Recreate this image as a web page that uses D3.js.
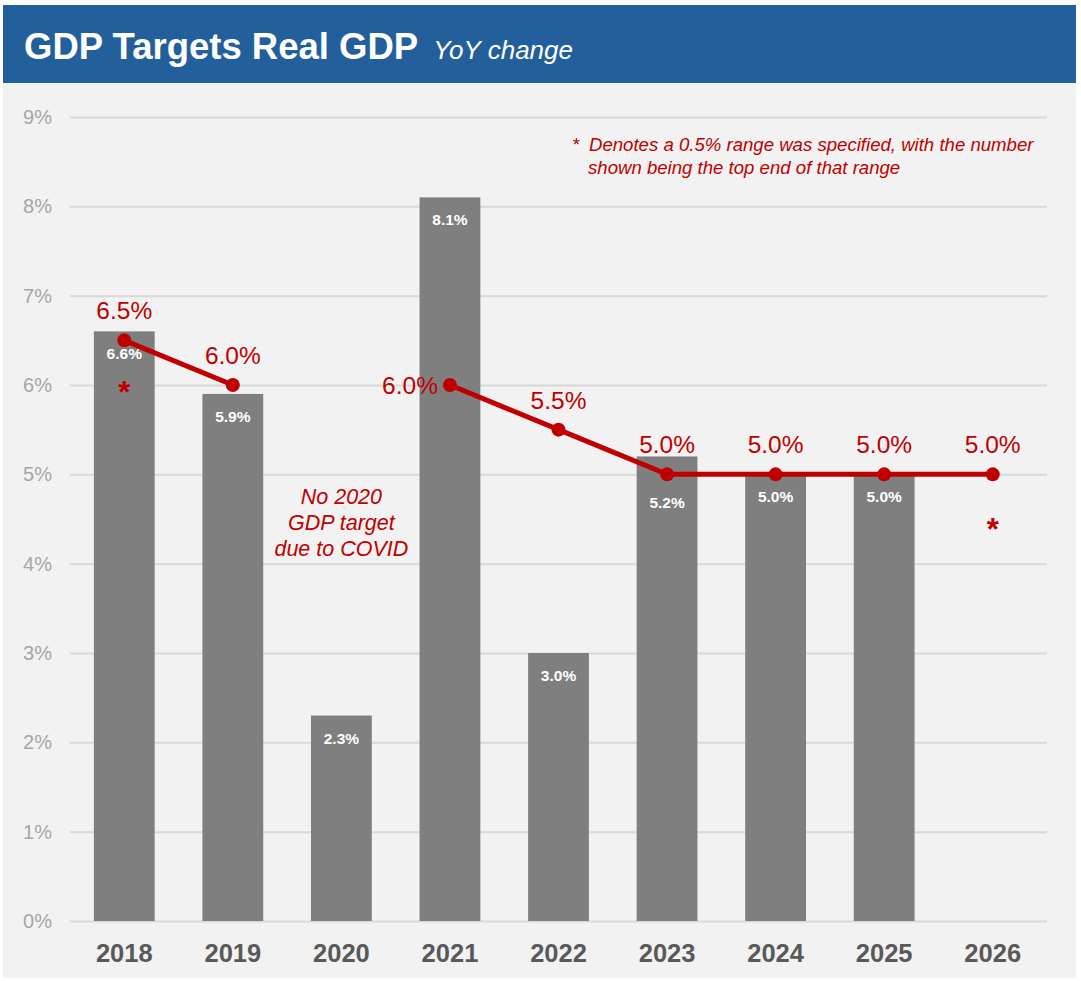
<!DOCTYPE html>
<html>
<head>
<meta charset="utf-8">
<script src="https://cdn.jsdelivr.net/npm/d3@7"></script>
<style>
  html, body { margin: 0; padding: 0; background: #ffffff; }
  svg { display: block; font-family: "Liberation Sans", Arial, sans-serif; }
</style>
</head>
<body>
<svg id="chart" width="1081" height="981"></svg>
<script>
// Chart data
const years = ["2018", "2019", "2020", "2021", "2022", "2023", "2024", "2025", "2026"];
const actualGrowth = [6.6, 5.9, 2.3, 8.1, 3.0, 5.2, 5.0, 5.0, null];
const targetGrowth = [6.5, 6.0, null, 6.0, 5.5, 5.0, 5.0, 5.0, 5.0];
const rangeTargetYears = ["2018", "2026"];
const yTicks = [0, 1, 2, 3, 4, 5, 6, 7, 8, 9];

const svg = d3.select("#chart");
const red = "#c00000";

// Background panel and header band
svg.append("rect").attr("x", 3).attr("y", 5).attr("width", 1073).attr("height", 973).attr("fill", "#f2f2f2");
svg.append("rect").attr("x", 3).attr("y", 5).attr("width", 1073).attr("height", 78).attr("fill", "#225f9b");

const title = svg.append("text").attr("x", 24).attr("y", 59).attr("fill", "#ffffff");
title.append("tspan").attr("font-size", 36.5).attr("font-weight", "bold").text("GDP Targets Real GDP");
title.append("tspan").attr("dx", 15).attr("font-size", 26).attr("font-style", "italic").text("YoY change");

// Scales
const x = d3.scaleBand().domain(years).range([70, 1047]).paddingInner(0.44).paddingOuter(0.22);
const y = d3.scaleLinear().domain([0, 9]).range([921, 117]);

// Gridlines and y labels
const yAxis = d3.axisLeft(y).tickValues(yTicks).tickFormat(d => d + "%").tickSize(-(1047 - 70)).tickPadding(18);
const gy = svg.append("g").attr("transform", "translate(70,0)").call(yAxis);
gy.select(".domain").remove();
gy.selectAll(".tick line").attr("stroke", "#d9d9d9").attr("stroke-width", 2);
gy.selectAll(".tick text").attr("fill", "#a6a6a6").attr("font-size", 20).attr("font-family", "Liberation Sans, Arial, sans-serif");

// x labels
const xAxis = d3.axisBottom(x).tickSize(0).tickPadding(23);
const gx = svg.append("g").attr("transform", "translate(0,921)").call(xAxis);
gx.select(".domain").remove();
gx.selectAll(".tick text").attr("fill", "#595959").attr("font-size", 25.5).attr("font-weight", "bold")
  .attr("font-family", "Liberation Sans, Arial, sans-serif");

// Bars for actual growth
const barData = years.map((yr, i) => ({ yr, v: actualGrowth[i], t: targetGrowth[i] })).filter(d => d.v !== null);
svg.append("g").selectAll("rect").data(barData).join("rect")
  .attr("x", d => x(d.yr)).attr("width", x.bandwidth())
  .attr("y", d => y(d.v)).attr("height", d => y(0) - y(d.v))
  .attr("fill", "#7f7f7f");

// Value labels inside bars; pushed lower where the target line crosses the label
svg.append("g").selectAll("text").data(barData).join("text")
  .attr("x", d => x(d.yr) + x.bandwidth() / 2)
  .attr("y", d => {
    const base = y(d.v) + 28;
    if (d.t !== null && d.v > d.t && y(d.t) > y(d.v) + 10 && y(d.t) < y(d.v) + 30 && d.v - d.t > 0.15) return y(d.t) + 34;
    return base;
  })
  .attr("text-anchor", "middle").attr("fill", "#ffffff").attr("font-size", 15.5).attr("font-weight", "bold")
  .text(d => d.v.toFixed(1) + "%");

// Target line
const tData = years.map((yr, i) => ({ yr, v: targetGrowth[i] }));
const line = d3.line().defined(d => d.v !== null)
  .x(d => x(d.yr) + x.bandwidth() / 2).y(d => y(d.v));
svg.append("path").datum(tData).attr("d", line)
  .attr("fill", "none").attr("stroke", red).attr("stroke-width", 5);
const tPts = tData.filter(d => d.v !== null);
svg.append("g").selectAll("circle").data(tPts).join("circle")
  .attr("cx", d => x(d.yr) + x.bandwidth() / 2).attr("cy", d => y(d.v)).attr("r", 7).attr("fill", red);

// Target labels: above each point, except after the 2020 gap where it sits to the left
svg.append("g").selectAll("text").data(tPts).join("text")
  .each(function(d) {
    const i = years.indexOf(d.yr);
    const afterGap = i > 0 && targetGrowth[i - 1] === null;
    const cx = x(d.yr) + x.bandwidth() / 2;
    d3.select(this)
      .attr("x", afterGap ? cx - 12 : cx)
      .attr("y", afterGap ? y(d.v) + 9 : y(d.v) - 21)
      .attr("text-anchor", afterGap ? "end" : "middle");
  })
  .attr("fill", red).attr("font-size", 24.5)
  .text(d => d.v.toFixed(1) + "%");

// Asterisks marking range targets
svg.append("g").selectAll("text").data(rangeTargetYears).join("text")
  .attr("x", d => x(d) + x.bandwidth() / 2)
  .attr("y", d => y(targetGrowth[years.indexOf(d)]) + (d === "2018" ? 63 : 66))
  .attr("text-anchor", "middle").attr("fill", red).attr("font-size", 31).attr("font-weight", "bold")
  .text("*");

// Range footnote
const note = svg.append("text").attr("fill", red).attr("font-size", 18.6).attr("font-style", "italic");
note.append("tspan").attr("x", 572).attr("y", 151).text("*");
note.append("tspan").attr("x", 589).attr("y", 151).text("Denotes a 0.5% range was specified, with the number");
note.append("tspan").attr("x", 588).attr("y", 174).text("shown being the top end of that range");

// Missing 2020 target note
const covid = svg.append("text").attr("fill", red).attr("font-size", 21.5).attr("font-style", "italic")
  .attr("text-anchor", "middle");
["No 2020", "GDP target", "due to COVID"].forEach((s, i) => {
  covid.append("tspan").attr("x", x("2020") + x.bandwidth() / 2).attr("y", 504 + i * 26).text(s);
});
</script>
</body>
</html>
